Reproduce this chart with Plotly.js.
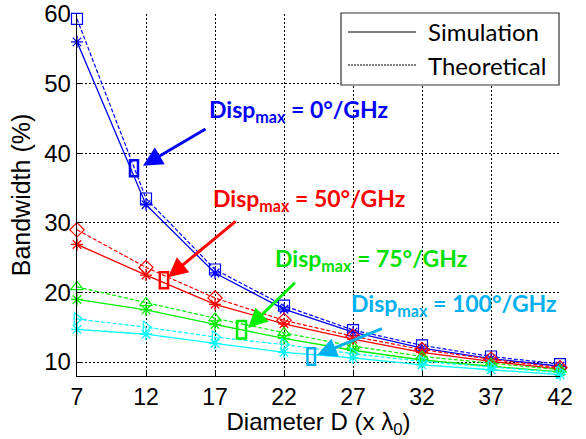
<!DOCTYPE html>
<html><head><meta charset="utf-8">
<script src="https://cdn.plot.ly/plotly-3.0.1.min.js"></script>
<style>html,body{margin:0;padding:0;background:#fff}#chart{width:586px;height:439px}</style>
</head><body><div id="chart"></div>
<script>
const diameters = [7, 12, 17, 22, 27, 32, 37, 42];
const blueSim = [56.0, 32.6, 22.8, 17.6, 14.3, 12.0, 10.5, 9.4];
const blueTheo = [59.3, 33.5, 23.3, 18.1, 14.6, 12.4, 10.8, 9.7];
const redSim = [26.9, 22.5, 18.3, 15.5, 13.3, 11.4, 10.1, 9.0];
const redTheo = [29.0, 23.6, 19.2, 16.0, 13.7, 11.8, 10.4, 9.2];
const greenSim = [19.0, 17.5, 15.4, 13.4, 11.7, 10.3, 9.4, 8.6];
const greenTheo = [20.8, 18.5, 16.3, 14.2, 12.3, 10.8, 9.8, 8.9];
const cyanSim = [14.7, 14.0, 12.7, 11.4, 10.6, 9.6, 8.9, 8.2];
const cyanTheo = [16.2, 15.0, 13.6, 12.5, 11.2, 10.1, 9.3, 8.5];
const xTicks = [7, 12, 17, 22, 27, 32, 37, 42];
const yTicks = [10, 20, 30, 40, 50, 60];

const groups = [
  {sim: blueSim, theo: blueTheo, color: '#0000ff', sym: 'square-open'},
  {sim: redSim, theo: redTheo, color: '#ff0000', sym: 'diamond-open'},
  {sim: greenSim, theo: greenTheo, color: '#00ee00', sym: 'triangle-up-open'},
  {sim: cyanSim, theo: cyanTheo, color: '#00ffff', sym: 'triangle-right-open'}
];
const traces = [];
groups.forEach(g => {
  traces.push({x: diameters, y: g.theo, mode: 'lines+markers', showlegend: false, cliponaxis: false,
    line: {color: g.color, width: 1.2, dash: '4px,2px'},
    marker: {symbol: g.sym, size: 11, color: g.color, line: {color: g.color, width: 1.2}}});
  traces.push({x: diameters, y: g.sim, mode: 'lines+markers', showlegend: false, cliponaxis: false,
    line: {color: g.color, width: 1.3},
    marker: {symbol: 'asterisk-open', size: 10, color: g.color, line: {color: g.color, width: 1.3}}});
});

const labelFont = 'Lato, "Open Sans", sans-serif';
const axisFont = '"Liberation Sans", Arial, sans-serif';
function boxShape(x0, x1, y0, y1, c) {
  return {type: 'rect', xref: 'x', yref: 'y', x0: x0, x1: x1, y0: y0, y1: y1,
    line: {color: c, width: 2.5}, fillcolor: 'rgba(0,0,0,0)'};
}
function arrow(x, y, ax, ay, c) {
  return {x: x, y: y, ax: ax, ay: ay, xref: 'x', yref: 'y', axref: 'x', ayref: 'y',
    text: '', showarrow: true, arrowhead: 2, arrowsize: 1.3, arrowwidth: 3, arrowcolor: c};
}
function label(txt, xp, yp, c) {
  return {x: xp, y: yp, xref: 'paper', yref: 'paper', xanchor: 'left', yanchor: 'middle',
    text: '<b>Disp<sub>max</sub> = ' + txt + '</b>', showarrow: false,
    font: {family: labelFont, size: 23, color: c}};
}
function px(v) { return (v - 77) / 483; }
function py(v) { return 1 - (v - 14) / 362; }

const layout = {
  width: 586, height: 439,
  margin: {l: 77, r: 26, t: 14, b: 63},
  paper_bgcolor: '#fff', plot_bgcolor: '#fff',
  font: {family: axisFont, color: '#000'},
  xaxis: {range: [7, 42], tickvals: xTicks, ticktext: xTicks.map(String),
    showline: true, linecolor: '#000', linewidth: 1.3, ticks: 'inside', ticklen: 5, tickcolor: '#000',
    showgrid: true, gridcolor: '#000', gridwidth: 1, griddash: '2px,2px', zeroline: false,
    tickfont: {size: 23, family: axisFont},
    title: {text: 'Diameter D (x λ<sub>0</sub>)', font: {size: 24, family: axisFont}, standoff: 3}},
  yaxis: {range: [8, 60], tickvals: yTicks, ticktext: yTicks.map(String),
    showline: true, linecolor: '#000', linewidth: 1.3, ticks: 'inside', ticklen: 5, tickcolor: '#000',
    showgrid: true, gridcolor: '#000', gridwidth: 1, griddash: '2px,2px', zeroline: false,
    tickfont: {size: 24, family: axisFont},
    title: {text: 'Bandwidth (%)', font: {size: 25, family: axisFont}, standoff: 6}},
  shapes: [
    boxShape(10.84, 11.42, 36.7, 39.0, '#0000ff'),
    boxShape(13.0, 13.6, 20.6, 22.9, '#ff0000'),
    boxShape(18.6, 19.25, 13.4, 15.9, '#00ee00'),
    boxShape(23.7, 24.25, 9.6, 12.0, '#00b0f0'),
    {type: 'rect', xref: 'paper', yref: 'paper', x0: px(341), x1: px(559), y0: py(85), y1: py(13),
      line: {color: '#333', width: 1.2}, fillcolor: '#fff', layer: 'above'},
    {type: 'line', xref: 'paper', yref: 'paper', x0: px(348), x1: px(416), y0: py(32), y1: py(32),
      line: {color: '#000', width: 1}, layer: 'above'},
    {type: 'line', xref: 'paper', yref: 'paper', x0: px(348), x1: px(416), y0: py(65), y1: py(65),
      line: {color: '#000', width: 1, dash: '2px,1px'}, layer: 'above'}
  ],
  annotations: [
    arrow(11.78, 38.2, 16.42, 43.6, '#0000ff'),
    arrow(13.6, 22.2, 18.6, 30.4, '#ff0000'),
    arrow(19.4, 14.9, 22.9, 21.6, '#00ee00'),
    arrow(24.4, 11.0, 29.2, 14.9, '#00b0f0'),
    label('0°/GHz', px(207), py(111), '#0000ff'),
    label('50°/GHz', px(211), py(199), '#ff0000'),
    label('75°/GHz', px(273), py(259), '#00e000'),
    label('100°/GHz', px(349), py(304), '#00b0f0'),
    {x: px(426), y: py(32), xref: 'paper', yref: 'paper', xanchor: 'left', yanchor: 'middle',
      text: 'Simulation', showarrow: false, font: {family: labelFont, size: 24, color: '#000'}},
    {x: px(426), y: py(65), xref: 'paper', yref: 'paper', xanchor: 'left', yanchor: 'middle',
      text: 'Theoretical', showarrow: false, font: {family: labelFont, size: 24, color: '#000'}}
  ]
};
Plotly.newPlot('chart', traces, layout, {displayModeBar: false, staticPlot: true});
</script></body></html>
